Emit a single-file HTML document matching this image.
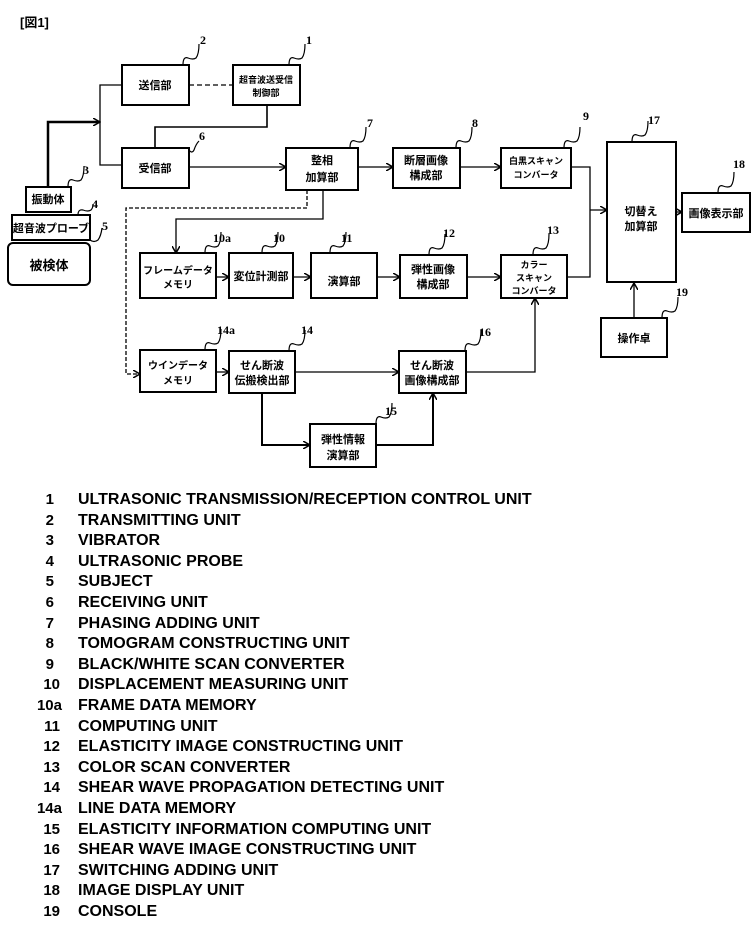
<!DOCTYPE html>
<html><head><meta charset="utf-8"><style>
html,body{margin:0;padding:0;background:#fff}
svg{display:block}
.j{font-family:"Liberation Sans","Noto Sans CJK JP",sans-serif;font-weight:bold;font-size:11px;text-anchor:middle;fill:#000}
.n{font-family:"Liberation Serif",serif;font-weight:bold;font-size:12px;fill:#000}
.l{font-family:"Liberation Sans",sans-serif;font-weight:bold;font-size:16px;fill:#000}
</style></head><body>
<svg width="756" height="929" viewBox="0 0 756 929" xmlns="http://www.w3.org/2000/svg">
<defs><marker id="a" markerWidth="8" markerHeight="8" refX="7" refY="4" orient="auto" markerUnits="userSpaceOnUse"><path d="M0,0 L7,4 L0,8" fill="none" stroke="#000" stroke-width="1.5"/></marker></defs>
<text x="20" y="27" class="j" style="text-anchor:start;font-size:13px">[図1]</text>
<g fill="none" stroke="#000" stroke-width="2">
<rect x="122" y="65" width="67" height="40"/>
<rect x="233" y="65" width="67" height="40"/>
<rect x="122" y="148" width="67" height="40"/>
<rect x="286" y="148" width="72" height="42"/>
<rect x="393" y="148" width="67" height="40"/>
<rect x="501" y="148" width="70" height="40"/>
<rect x="607" y="142" width="69" height="140"/>
<rect x="682" y="193" width="68" height="39"/>
<rect x="601" y="318" width="66" height="39"/>
<rect x="26" y="187" width="45" height="25"/>
<rect x="12" y="215" width="78" height="25"/>
<rect x="8" y="243" width="82" height="42" rx="5"/>
<rect x="140" y="253" width="76" height="45"/>
<rect x="229" y="253" width="64" height="45"/>
<rect x="311" y="253" width="66" height="45"/>
<rect x="400" y="255" width="67" height="43"/>
<rect x="501" y="255" width="66" height="43"/>
<rect x="140" y="350" width="76" height="42"/>
<rect x="229" y="351" width="66" height="42"/>
<rect x="399" y="351" width="67" height="42"/>
<rect x="310" y="424" width="66" height="43"/>
</g>
<g fill="none" stroke="#000" stroke-width="1.3">
<path d="M48,187 V122 H100" stroke-width="2.5" marker-end="url(#a)"/>
<path d="M122,85 H100 V165 H122"/>
<path d="M189,85 H233" stroke-dasharray="5,3"/>
<path d="M267,105 V127 H155 V148" stroke-width="1.6"/>
<path d="M189,167 H286" marker-end="url(#a)"/>
<path d="M358,167 H393" marker-end="url(#a)"/>
<path d="M460,167 H501" marker-end="url(#a)"/>
<path d="M571,167 H590 V277 H567"/>
<path d="M590,210 H607" marker-end="url(#a)"/>
<path d="M676,212 H682" marker-end="url(#a)"/>
<path d="M634,318 V283" marker-end="url(#a)"/>
<path d="M323,190 V219 H176 V253" marker-end="url(#a)"/>
<path d="M307,190 V208 H126 V374 H140" stroke-dasharray="4,2" marker-end="url(#a)"/>
<path d="M216,277 H229" marker-end="url(#a)"/>
<path d="M293,277 H311" marker-end="url(#a)"/>
<path d="M377,277 H400" marker-end="url(#a)"/>
<path d="M467,277 H501" marker-end="url(#a)"/>
<path d="M216,372 H229" marker-end="url(#a)"/>
<path d="M295,372 H399" marker-end="url(#a)"/>
<path d="M262,393 V445 H310" stroke-width="2" marker-end="url(#a)"/>
<path d="M376,445 H433 V393" stroke-width="2" marker-end="url(#a)"/>
<path d="M466,372 H535 V298" marker-end="url(#a)"/>
</g>
<g fill="none" stroke="#000" stroke-width="1.2">
<path d="M183,65 q0,-9 5,-7 q5,2 8,0 q3,-4 3,-14"/>
<path d="M289,65 q0,-9 5,-7 q5,2 8,0 q3,-4 3,-14"/>
<path d="M189,150 q3,4 5,0 q2,-6 5,-9"/>
<path d="M350,148 q0,-9 5,-7 q5,2 8,0 q3,-4 3,-14"/>
<path d="M456,148 q0,-9 5,-7 q5,2 8,0 q3,-4 3,-14"/>
<path d="M564,148 q0,-9 5,-7 q5,2 8,0 q3,-4 3,-14"/>
<path d="M632,142 q0,-9 5,-7 q5,2 8,0 q3,-4 3,-14"/>
<path d="M718,193 q0,-9 5,-7 q5,2 8,0 q3,-4 3,-14"/>
<path d="M662,318 q0,-9 5,-7 q5,2 8,0 q3,-4 3,-14"/>
<path d="M68,187 q0,-9 5,-7 q5,2 8,0 q3,-4 3,-14"/>
<path d="M78,215 q0,-6 5,-5 q5,2 8,0 q2,-2 2,-6"/>
<path d="M90,240 q4,3 8,0 q3,-4 4,-12"/>
<path d="M205,253 q0,-9 5,-7 q5,2 8,0 q3,-4 3,-14"/>
<path d="M262,253 q0,-9 5,-7 q5,2 8,0 q3,-4 3,-14"/>
<path d="M330,253 q0,-9 5,-7 q5,2 8,0 q3,-4 3,-14"/>
<path d="M429,255 q0,-9 5,-7 q5,2 8,0 q3,-4 3,-14"/>
<path d="M533,255 q0,-9 5,-7 q5,2 8,0 q3,-4 3,-14"/>
<path d="M205,350 q0,-9 5,-7 q5,2 8,0 q3,-4 3,-14"/>
<path d="M289,351 q0,-9 5,-7 q5,2 8,0 q3,-4 3,-14"/>
<path d="M465,351 q0,-9 5,-7 q5,2 8,0 q3,-4 3,-14"/>
<path d="M376,424 q0,-9 5,-7 q5,2 8,0 q3,-4 3,-14"/>
</g>
<g class="n">
<text x="200" y="44">2</text><text x="306" y="44">1</text><text x="199" y="140">6</text>
<text x="367" y="127">7</text><text x="472" y="127">8</text><text x="583" y="120">9</text>
<text x="648" y="124">17</text><text x="733" y="168">18</text><text x="676" y="296">19</text>
<text x="83" y="174">3</text><text x="92" y="208">4</text><text x="102" y="230">5</text>
<text x="213" y="242">10a</text><text x="273" y="242">10</text><text x="341" y="242">11</text>
<text x="443" y="237">12</text><text x="547" y="234">13</text>
<text x="217" y="334">14a</text><text x="301" y="334">14</text><text x="479" y="336">16</text><text x="385" y="415">15</text>
</g>
<g class="j">
<text x="155" y="89">送信部</text>
<text x="266" y="83" style="font-size:9px">超音波送受信</text><text x="266" y="96" style="font-size:9px">制御部</text>
<text x="155" y="172">受信部</text>
<text x="322" y="164">整相</text><text x="322" y="181">加算部</text>
<text x="426" y="164">断層画像</text><text x="426" y="179">構成部</text>
<text x="536" y="164" style="font-size:9px">白黒スキャン</text><text x="536" y="178" style="font-size:9px">コンバータ</text>
<text x="641" y="215">切替え</text><text x="641" y="230">加算部</text>
<text x="716" y="217">画像表示部</text>
<text x="634" y="342">操作卓</text>
<text x="48" y="203">振動体</text>
<text x="51" y="232">超音波プローブ</text>
<text x="49" y="270" style="font-size:13px">被検体</text>
<text x="178" y="274" style="font-size:10px">フレームデータ</text><text x="178" y="288" style="font-size:10px">メモリ</text>
<text x="261" y="280">変位計測部</text>
<text x="344" y="285">演算部</text>
<text x="433" y="273">弾性画像</text><text x="433" y="288">構成部</text>
<text x="534" y="268" style="font-size:9px">カラー</text><text x="534" y="281" style="font-size:9px">スキャン</text><text x="534" y="294" style="font-size:9px">コンバータ</text>
<text x="178" y="369" style="font-size:10px">ウインデータ</text><text x="178" y="384" style="font-size:10px">メモリ</text>
<text x="262" y="369">せん断波</text><text x="262" y="384">伝搬検出部</text>
<text x="432" y="369">せん断波</text><text x="432" y="384">画像構成部</text>
<text x="343" y="443">弾性情報</text><text x="343" y="459">演算部</text>
</g>
<g class="l">
<g text-anchor="end" style="font-size:15px">
<text x="54" y="504">1</text><text x="54" y="525">2</text><text x="54" y="545">3</text><text x="54" y="566">4</text><text x="54" y="586">5</text><text x="54" y="607">6</text><text x="54" y="628">7</text><text x="54" y="648">8</text><text x="54" y="669">9</text><text x="60" y="689">10</text><text x="62" y="710">10a</text><text x="60" y="731">11</text><text x="60" y="751">12</text><text x="60" y="772">13</text><text x="60" y="792">14</text><text x="62" y="813">14a</text><text x="60" y="834">15</text><text x="60" y="854">16</text><text x="60" y="875">17</text><text x="60" y="895">18</text><text x="60" y="916">19</text>
</g>
<g transform="translate(78,0) scale(1.0,1)">
<text x="0" y="504">ULTRASONIC TRANSMISSION/RECEPTION CONTROL UNIT</text>
<text x="0" y="525">TRANSMITTING UNIT</text>
<text x="0" y="545">VIBRATOR</text>
<text x="0" y="566">ULTRASONIC PROBE</text>
<text x="0" y="586">SUBJECT</text>
<text x="0" y="607">RECEIVING UNIT</text>
<text x="0" y="628">PHASING ADDING UNIT</text>
<text x="0" y="648">TOMOGRAM CONSTRUCTING UNIT</text>
<text x="0" y="669">BLACK/WHITE SCAN CONVERTER</text>
<text x="0" y="689">DISPLACEMENT MEASURING UNIT</text>
<text x="0" y="710">FRAME DATA MEMORY</text>
<text x="0" y="731">COMPUTING UNIT</text>
<text x="0" y="751">ELASTICITY IMAGE CONSTRUCTING UNIT</text>
<text x="0" y="772">COLOR SCAN CONVERTER</text>
<text x="0" y="792">SHEAR WAVE PROPAGATION DETECTING UNIT</text>
<text x="0" y="813">LINE DATA MEMORY</text>
<text x="0" y="834">ELASTICITY INFORMATION COMPUTING UNIT</text>
<text x="0" y="854">SHEAR WAVE IMAGE CONSTRUCTING UNIT</text>
<text x="0" y="875">SWITCHING ADDING UNIT</text>
<text x="0" y="895">IMAGE DISPLAY UNIT</text>
<text x="0" y="916">CONSOLE</text>
</g>
</g>
</svg>
</body></html>
